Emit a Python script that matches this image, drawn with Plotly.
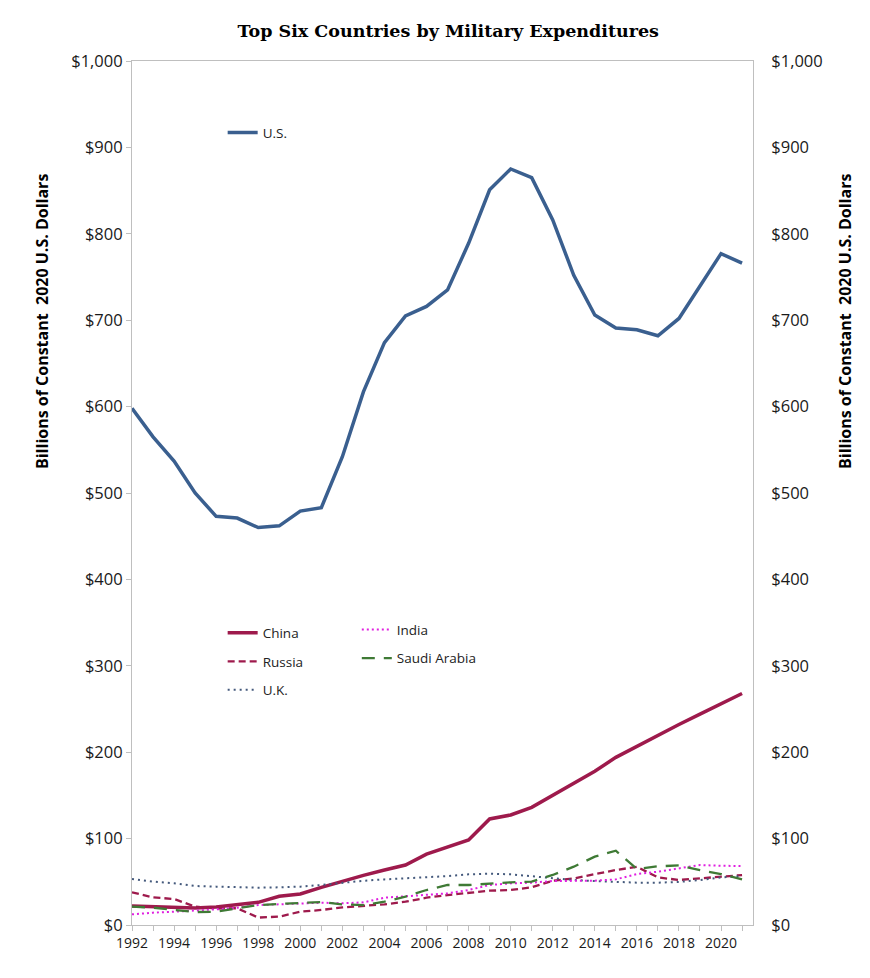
import plotly.graph_objects as go

years = list(range(1992, 2022))

# billions of constant 2020 US dollars
us = [598, 565, 537, 500, 473, 471, 460, 462, 479, 483, 542, 617, 674, 705, 716, 735,
      789, 851, 875, 865, 816, 752, 706, 691, 689, 682, 702, 739, 777, 766]
china = [22.0, 21.2, 20.4, 19.6, 20.8, 23.1, 26.2, 33.2, 35.9, 43.6, 50.9, 57.5, 63.7, 69.4, 82.0,
         90.7, 98.4, 122.7, 127.3, 136.2, 150.5, 164, 178, 194, 207, 220, 232, 244, 256, 268]
russia = [37.8, 32.0, 30.1, 21.3, 19.0, 19.4, 8.6, 9.7, 15.4, 17.4, 20.4, 22.0, 23.9, 27.0, 31.6,
          34.7, 37.4, 39.7, 40.5, 43.6, 51.3, 53.9, 58.9, 63.6, 67.4, 55.1, 52.1, 53.9, 55.9, 57.8]
uk = [53.2, 50.2, 48.2, 45.1, 44.4, 43.6, 43.2, 43.6, 44.4, 46.3, 48.9, 51.2, 52.8, 53.9, 55.1,
      56.6, 58.6, 59.4, 58.6, 56.6, 53.9, 52.1, 50.9, 49.8, 49.0, 49.0, 49.8, 52.1, 55.1, 56.6]
india = [12.3, 14.3, 15.4, 16.6, 18.1, 20.1, 23.1, 23.9, 25.1, 25.8, 25.1, 26.2, 31.6, 33.5, 34.7,
         36.6, 40.5, 46.3, 48.2, 49.0, 50.9, 51.3, 51.3, 52.8, 59.0, 61.7, 65.5, 69.4, 68.6, 68.2]
saudi = [21.2, 20.1, 17.4, 15.0, 15.4, 19.3, 23.1, 24.3, 25.1, 26.6, 23.9, 23.1, 27.0, 32.8, 40.5,
         46.3, 46.3, 48.2, 49.4, 50.2, 57.9, 67.5, 79.1, 86.0, 64.8, 67.9, 69.0, 63.6, 59.0, 52.8]

x_labels = [str(y) if y % 2 == 0 else "" for y in years]
y_ticks = list(range(0, 1001, 100))
y_labels = ["${:,}".format(v) for v in y_ticks]

tick_font = dict(family="Open Sans, Noto Sans, sans-serif", size=16.5, color="#1a1a1a")
legend_font = dict(family="Open Sans, Noto Sans, sans-serif", size=13.5, color="#222222")
title_font = dict(family="Open Sans, Noto Sans, sans-serif", size=16, color="black")
axis_title = "<b>Billions of Constant  2020 U.S. Dollars</b>"

fig = go.Figure()

fig.add_trace(go.Scatter(x=years, y=us, name="U.S.", mode="lines",
                         line=dict(color="#3A5F8F", width=3.5), legend="legend"))

series = [
    ("China", china, dict(color="#9E1A4C", width=3.5), "legend2"),
    ("Russia", russia, dict(color="#9E1A4C", width=2.3, dash="7px,4px"), "legend2"),
    ("U.K.", uk, dict(color="#44597C", width=2, dash="2px,4px"), "legend2"),
    ("India", india, dict(color="#E020E0", width=2, dash="2px,3px"), "legend3"),
    ("Saudi Arabia", saudi, dict(color="#3F7A35", width=2.3, dash="13px,9px"), "legend3"),
]
for name, vals, ln, lg in series:
    fig.add_trace(go.Scatter(x=years, y=vals, name=name, mode="lines", line=ln,
                             legend=lg, legendgroup=name))

# invisible trace to drive the right-hand axis
fig.add_trace(go.Scatter(x=[years[0]], y=[0], yaxis="y2", mode="lines",
                         showlegend=False, hoverinfo="skip", line=dict(width=0)))

legend_common = dict(bgcolor="rgba(0,0,0,0)", font=legend_font, xanchor="left",
                     yanchor="middle", tracegroupgap=8, itemwidth=30)

# axis titles sit high on both sides, so they are annotations
for xpos in (-0.145, 1.148):
    fig.add_annotation(text=axis_title, xref="paper", yref="paper", x=xpos, y=0.699,
                       textangle=-90, showarrow=False, font=title_font,
                       xanchor="center", yanchor="middle")

fig.update_layout(
    width=870, height=978,
    paper_bgcolor="white", plot_bgcolor="white",
    margin=dict(l=124, r=125, t=53, b=61),
    title=dict(text="<b>Top Six Countries by Military Expenditures</b>",
               x=0.506, xanchor="center", y=0.977, yanchor="middle",
               font=dict(family="DejaVu Serif, serif", size=17.5, color="black")),
    xaxis=dict(range=[1992, 2021.52], tickmode="array", tickvals=years, ticktext=x_labels,
               ticks="outside", ticklen=5, tickcolor="#bfbfbf", showgrid=False, zeroline=False,
               showline=True, linecolor="#bfbfbf", linewidth=1, mirror=True,
               tickfont=dict(family="Open Sans, Noto Sans, sans-serif", size=14, color="#1a1a1a")),
    yaxis=dict(range=[0, 1000], tickmode="array", tickvals=y_ticks, ticktext=y_labels,
               ticks="outside", ticklen=5, tickcolor="#bfbfbf",
               showgrid=False, zeroline=False, showline=True, linecolor="#bfbfbf",
               tickfont=tick_font),
    yaxis2=dict(range=[0, 1000], overlaying="y", side="right", tickmode="array",
                tickvals=y_ticks, ticktext=y_labels, ticks="",
                ticklabelstandoff=14, showgrid=False, zeroline=False, showline=True,
                linecolor="#bfbfbf", tickfont=tick_font),
    legend=dict(x=0.146, y=0.917, **legend_common),
    legend2=dict(x=0.146, y=0.305, **legend_common),
    legend3=dict(x=0.362, y=0.325, **legend_common),
    showlegend=True,
)

fig.write_html("out.html")
